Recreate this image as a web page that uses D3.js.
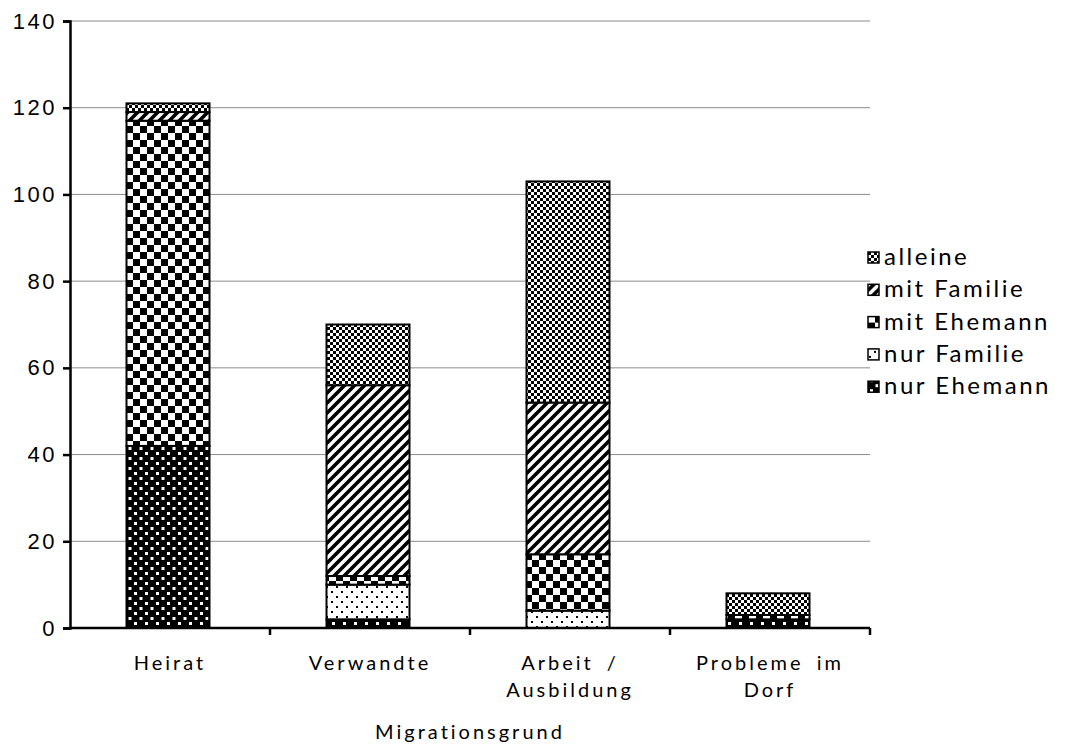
<!DOCTYPE html>
<html>
<head>
<meta charset="utf-8">
<script src="https://cdn.jsdelivr.net/npm/d3@7"></script>
<style>
  body { margin: 0; background: #fff; }
  svg { font-family: Lato, "DejaVu Sans", sans-serif; }
</style>
</head>
<body>
<div id="chart"></div>
<script>
// categories (x axis), shown on two lines where needed
const categories = ['Heirat', 'Verwandte', 'Arbeit / Ausbildung', 'Probleme im Dorf'];
const categoryLines = [['Heirat'], ['Verwandte'], ['Arbeit /', 'Ausbildung'], ['Probleme im', 'Dorf']];

// series, bottom to top of the stack
const seriesNames = ['nur Ehemann', 'nur Familie', 'mit Ehemann', 'mit Familie', 'alleine'];
const nurEhemann = [42, 2, 0, 2];
const nurFamilie = [0, 8, 4, 0];
const mitEhemann = [75, 2, 13, 1];
const mitFamilie = [2, 44, 35, 0];
const alleine    = [2, 14, 51, 5];

const yTicks = [0, 20, 40, 60, 80, 100, 120, 140];
const xTitle = 'Migrationsgrund';

const width = 1077, height = 746;
const plotL = 70, plotR = 870, plotT = 21, plotB = 628;

const svg = d3.select('#chart').append('svg')
    .attr('width', width)
    .attr('height', height);

// ---- fill patterns (black & white like the original print) ----
const defs = svg.append('defs');

// fine checker: alleine
let p = defs.append('pattern').attr('id', 'p-alleine')
    .attr('patternUnits', 'userSpaceOnUse').attr('width', 6).attr('height', 6);
p.append('rect').attr('width', 6).attr('height', 6).attr('fill', '#fff');
p.append('rect').attr('width', 3).attr('height', 3).attr('fill', '#000');
p.append('rect').attr('x', 3).attr('y', 3).attr('width', 3).attr('height', 3).attr('fill', '#000');

// diagonal stripes: mit Familie
p = defs.append('pattern').attr('id', 'p-mitFamilie')
    .attr('patternUnits', 'userSpaceOnUse').attr('width', 10).attr('height', 10);
p.append('rect').attr('width', 10).attr('height', 10).attr('fill', '#fff');
p.append('path').attr('d', 'M-3,3 L3,-3 M0,10 L10,0 M7,13 L13,7')
    .attr('stroke', '#000').attr('stroke-width', 3.6);

// coarse checker: mit Ehemann
p = defs.append('pattern').attr('id', 'p-mitEhemann')
    .attr('patternUnits', 'userSpaceOnUse').attr('width', 14).attr('height', 14);
p.append('rect').attr('width', 14).attr('height', 14).attr('fill', '#fff');
p.append('rect').attr('width', 7).attr('height', 7).attr('fill', '#000');
p.append('rect').attr('x', 7).attr('y', 7).attr('width', 7).attr('height', 7).attr('fill', '#000');

// sparse black dots on white: nur Familie
p = defs.append('pattern').attr('id', 'p-nurFamilie')
    .attr('patternUnits', 'userSpaceOnUse').attr('width', 10).attr('height', 10);
p.append('rect').attr('width', 10).attr('height', 10).attr('fill', '#fff');
p.append('rect').attr('x', 1).attr('y', 1).attr('width', 2).attr('height', 2).attr('fill', '#000');
p.append('rect').attr('x', 6).attr('y', 6).attr('width', 2).attr('height', 2).attr('fill', '#000');

// white dots on black: nur Ehemann
p = defs.append('pattern').attr('id', 'p-nurEhemann')
    .attr('patternUnits', 'userSpaceOnUse').attr('width', 11).attr('height', 10);
p.append('rect').attr('width', 11).attr('height', 10).attr('fill', '#000');
p.append('rect').attr('x', 2).attr('y', 2).attr('width', 3).attr('height', 3).attr('fill', '#fff');
p.append('rect').attr('x', 7.5).attr('y', 7).attr('width', 3).attr('height', 3).attr('fill', '#fff');

const patternIds = ['p-nurEhemann', 'p-nurFamilie', 'p-mitEhemann', 'p-mitFamilie', 'p-alleine'];

// ---- scales ----
const x = d3.scaleBand().domain(categories).range([plotL, plotR]).padding(0);
const y = d3.scaleLinear().domain([0, 140]).range([plotB, plotT]);
const barW = x.bandwidth() * 0.415;

// gridlines
svg.append('g').selectAll('line')
    .data(yTicks.filter(d => d > 0))
    .enter().append('line')
    .attr('x1', plotL).attr('x2', plotR)
    .attr('y1', d => y(d)).attr('y2', d => y(d))
    .attr('stroke', '#8c8c8c').attr('stroke-width', 1);

// ---- stacked bars ----
const table = categories.map((c, i) => ({
    cat: c,
    'nur Ehemann': nurEhemann[i],
    'nur Familie': nurFamilie[i],
    'mit Ehemann': mitEhemann[i],
    'mit Familie': mitFamilie[i],
    'alleine': alleine[i]
}));
const stacked = d3.stack().keys(seriesNames)(table);

svg.append('g').selectAll('g')
    .data(stacked)
    .enter().append('g')
    .attr('fill', (d, i) => 'url(#' + patternIds[i] + ')')
    .selectAll('rect')
    .data(d => d.filter(s => s[1] - s[0] > 0))
    .enter().append('rect')
    .attr('x', d => x(d.data.cat) + (x.bandwidth() - barW) / 2 - 2)
    .attr('width', barW)
    .attr('y', d => y(d[1]))
    .attr('height', d => y(d[0]) - y(d[1]))
    .attr('stroke', '#000')
    .attr('stroke-width', 2);

// ---- y axis ----
const yAxis = svg.append('g')
    .attr('transform', 'translate(' + plotL + ',0)')
    .call(d3.axisLeft(y).tickValues(yTicks).tickSize(7).tickPadding(6));
yAxis.select('.domain').attr('stroke-width', 2.5);
yAxis.selectAll('.tick line').attr('stroke-width', 2.5);
yAxis.selectAll('.tick text')
    .style('font-size', '22px')
    .style('letter-spacing', '2.5px')
    .attr('fill', '#000');

// ---- x axis ----
const xAxis = svg.append('g');
xAxis.append('line')
    .attr('x1', plotL).attr('x2', plotR)
    .attr('y1', plotB).attr('y2', plotB)
    .attr('stroke', '#000').attr('stroke-width', 2.5);
xAxis.selectAll('.xtick')
    .data(categories)
    .enter().append('line')
    .attr('class', 'xtick')
    .attr('x1', d => x(d) + x.bandwidth()).attr('x2', d => x(d) + x.bandwidth())
    .attr('y1', plotB).attr('y2', plotB + 7)
    .attr('stroke', '#000').attr('stroke-width', 2.5);

const labels = xAxis.selectAll('.xlabel')
    .data(categories)
    .enter().append('text')
    .attr('class', 'xlabel')
    .attr('text-anchor', 'middle')
    .style('font-size', '20px')
    .style('letter-spacing', '3px')
    .style('word-spacing', '5px');
labels.selectAll('tspan')
    .data((d, i) => categoryLines[i].map(t => ({ t: t, cx: x(d) + x.bandwidth() / 2 })))
    .enter().append('tspan')
    .attr('x', d => d.cx)
    .attr('y', (d, j) => 670 + j * 27)
    .text(d => d.t);

svg.append('text')
    .attr('x', (plotL + plotR) / 2)
    .attr('y', 739)
    .attr('text-anchor', 'middle')
    .style('font-size', '20px')
    .style('letter-spacing', '3px')
    .text(xTitle);

// ---- legend ----
const legend = svg.append('g').attr('transform', 'translate(868,258)');
const items = legend.selectAll('g')
    .data(seriesNames.slice().reverse())
    .enter().append('g')
    .attr('transform', (d, i) => 'translate(0,' + i * 32.3 + ')');
items.append('rect')
    .attr('x', 0).attr('y', -6)
    .attr('width', 11).attr('height', 11)
    .attr('fill', (d, i) => 'url(#' + patternIds[4 - i] + ')')
    .attr('stroke', '#000').attr('stroke-width', 1.5);
items.append('text')
    .attr('x', 16).attr('y', 7)
    .style('font-size', '24px')
    .style('letter-spacing', '2.5px')
    .text(d => d);
</script>
</body>
</html>
